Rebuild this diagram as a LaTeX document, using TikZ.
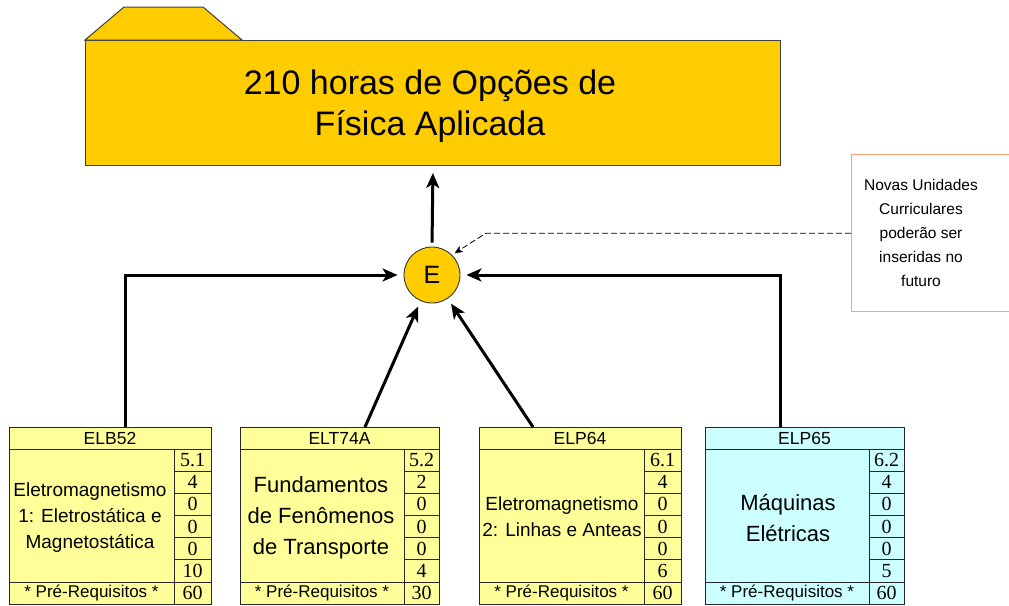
\documentclass[tikz,border=0pt]{standalone}
\usepackage{fontspec}
\setmainfont{Liberation Sans}
\newfontfamily\numfont{Liberation Serif}
\usetikzlibrary{arrows.meta,calc}
\definecolor{gold}{HTML}{FFCC00}
\definecolor{lyellow}{HTML}{FFFF99}
\definecolor{lcyan}{HTML}{CCFFFF}
\definecolor{noteorange}{HTML}{F8A46C}
\tikzset{
  boxline/.style={draw=black!85, line width=0.9pt},
  hdr/.style={font=\fontsize{17.5}{17.5}\selectfont, inner sep=0pt},
  pre/.style={font=\fontsize{17}{17}\selectfont, inner sep=0pt},
  num/.style={font=\numfont\fontsize{20}{20}\selectfont, inner sep=0pt},
  body/.style={align=center, inner sep=0pt},
  arr/.style={line width=3pt, -{Stealth[length=15pt,width=13pt,inset=4pt]}, shorten >=6pt},
  dashline/.style={line width=0.8pt, dash pattern=on 6pt off 3pt, -{Stealth[length=8pt,width=7pt,inset=2pt]}, shorten >=3pt},
  folderline/.style={draw=black!75, line width=1pt, fill=gold},
}
\newcommand{\cbox}[7]{%
  \node[boxline, fill=#5, anchor=north west, minimum width={#3pt-#2pt}, minimum height=177pt, inner sep=0pt] (#1) at (#2,427) {};
  \draw[boxline] (#2,449) -- (#3,449);
  \draw[boxline] (#2,582) -- (#3,582);
  \draw[boxline] (#4,449) -- (#4,604);
  \foreach \k in {1,...,5} \draw[boxline] (#4,{449+22.17*\k}) -- (#3,{449+22.17*\k});
  \node[hdr] (#1h) at ({(#2+#3)/2},438) {#6};
  \node[pre] (#1p) at ({(#2+#4)/2},593) {* Pré-Requisitos *};
  \foreach \n [count=\i] in {#7} \node[num] (#1n\i) at ({(#4+#3)/2},{449+22.17*(\i-0.5)}) {\n};
}
\begin{document}
\begin{tikzpicture}[x=1pt,y=-1pt]
\useasboundingbox (0,0) rectangle (1009,605);
\clip (0,0) rectangle (1009,605);
% folder
\node[folderline, anchor=north west, minimum width=695pt, minimum height=125pt, inner sep=0pt] (folder) at (85,40) {};
\draw[folderline] (folder.north west) -- ++(39,-33) -- ++(79,0) -- ++(39,33) -- cycle;
\node[font=\fontsize{34}{41}\selectfont, align=center, inner sep=0pt] (title) at (430,106) {210 horas de Opções de\\Física Aplicada};
% circle
\node[circle, draw=black!80, line width=0.9pt, fill=gold, minimum size=56pt, inner sep=0pt, font=\fontsize{25}{25}\selectfont] (E) at (432,275) {E};
% note
\node[draw=noteorange, line width=1.3pt, anchor=north west, minimum width=175pt, minimum height=157pt] (note) at (851,154) {};
\node[font=\fontsize{15.5}{24}\selectfont, align=center, inner sep=0pt] (notetxt) at (921,233) {Novas Unidades\\Curriculares\\poderão ser\\inseridas no\\futuro};
% boxes
\cbox{b1}{9}{211}{174}{lyellow}{ELB52}{5.1,4,0,0,0,10,60}
\cbox{b2}{240}{439}{404}{lyellow}{ELT74A}{5.2,2,0,0,0,4,30}
\cbox{b3}{479}{681}{644}{lyellow}{ELP64}{6.1,4,0,0,0,6,60}
\cbox{b4}{705}{904}{869}{lcyan}{ELP65}{6.2,4,0,0,0,5,60}
\node[body, font=\fontsize{19}{26}\selectfont] (b1t) at (90,518) {Eletromagnetismo\\1: Eletrostática e\\Magnetostática};
\node[body, font=\fontsize{22}{31}\selectfont] (b2t) at (321,518) {Fundamentos\\de Fenômenos\\de Transporte};
\node[body, font=\fontsize{19}{26}\selectfont] (b3t) at (562,517) {Eletromagnetismo\\2: Linhas e Anteas};
\node[body, font=\fontsize{22}{31}\selectfont] (b4t) at (788,518) {Máquinas\\Elétricas};
% connectors
\draw[arr, shorten <=4pt, shorten >=7pt] (E.north) -- (folder.south);
\draw[arr] ([xshift=116pt]b1.north west) |- (E.west);
\draw[arr] ([xshift=75pt]b4.north west) |- (E.east);
\draw[arr] ([xshift=125pt]b2.north west) -- (E);
\draw[arr] ([xshift=54pt]b3.north west) -- (E);
\draw[dashline] (note.west) -- ++(-365,0) -- (E.north east);
\end{tikzpicture}
\end{document}
